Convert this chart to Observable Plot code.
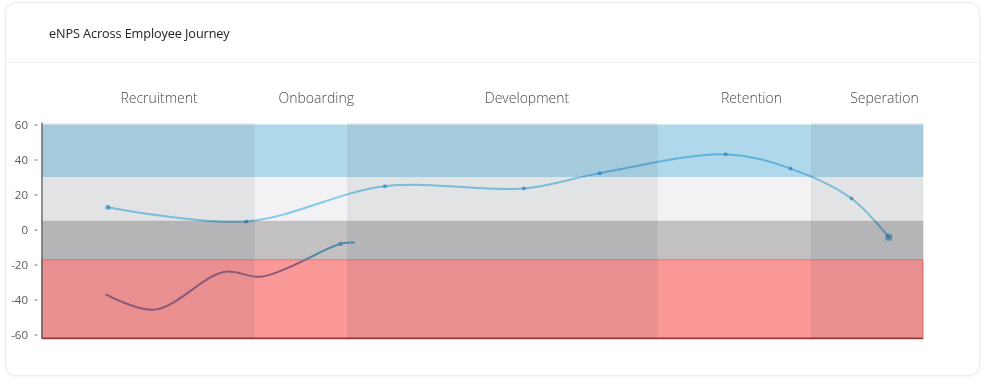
<!DOCTYPE html>
<html>
<head>
<meta charset="utf-8">
<script src="https://cdn.jsdelivr.net/npm/d3@7"></script>
<script src="https://cdn.jsdelivr.net/npm/@observablehq/plot@0.6"></script>
<style>
  html, body { margin: 0; padding: 0; background: #fff; width: 986px; height: 385px; overflow: hidden; }
  #card { position: absolute; left: 5px; top: 2px; width: 973px; height: 372px; border: 1px solid #ececec; border-radius: 11px; box-shadow: 0 1px 3px rgba(0,0,0,0.05); background: #fff; }
  #header { position: absolute; left: 0; top: 0; right: 0; height: 59px; border-bottom: 1px solid #f0f0f0; }
  #title { position: absolute; left: 43px; top: 21px; font-family: "Open Sans", sans-serif; font-size: 12.7px; color: #222; letter-spacing: -0.1px; }
  #chart { position: absolute; left: 0; top: 62px; }
</style>
</head>
<body>
<div id="card"><div id="header"><div id="title">eNPS Across Employee Journey</div></div></div>
<div id="chart"></div>
<script>
// Journey stages (x in % of the journey)
const stages = ["Recruitment", "Onboarding", "Development", "Retention", "Seperation"];
const stageStart = [0, 24.1, 34.7, 69.8, 87.3];
const stageEnd = [24.1, 34.7, 69.8, 87.3, 100];
const stageLabelX = [13.27, 31.1, 55.0, 80.46, 95.54];

// eNPS bands
const bandLow = [30, 5, -17, -62];
const bandHigh = [60, 30, 5, -17];
const bandColors = ["#afd8ea", "#f2f2f4", "#c2c0c1", "#fa9898"];
const detractorLimit = -17;

// Series 1: current eNPS along the journey
const journeyA = [7.46, 23.16, 38.88, 54.64, 63.26, 77.51, 84.88, 91.8, 96.03];
const enpsA = [13.0, 4.9, 25.0, 23.7, 32.5, 43.3, 35.1, 18.0, -4.1];

// Series 2: second eNPS series (early journey)
const journeyB = [7.3, 12.8, 20.6, 25.0, 33.85, 35.4];
const enpsB = [-36.9, -45.5, -24.0, -26.6, -7.9, -7.1];
const dotsB = [4];

const yTicks = [-60, -40, -20, 0, 20, 40, 60];

const stageData = stages.map((s, i) => ({ s, x1: stageStart[i], x2: stageEnd[i], lx: stageLabelX[i], i }));
const bands = bandLow.map((lo, i) => ({ lo, hi: bandHigh[i], color: bandColors[i] }));
const seriesA = journeyA.map((x, i) => ({ x, y: enpsA[i] }));
const seriesB = journeyB.map((x, i) => ({ x, y: enpsB[i] }));
const lineColor = "#8ad3f3";

function gradientDefs(index, scales) {
  const yPix = scales.y(detractorLimit);
  const defs = d3.create("svg:defs");
  const g = defs.append("linearGradient")
    .attr("id", "lineBGrad")
    .attr("gradientUnits", "userSpaceOnUse")
    .attr("x1", 0).attr("x2", 0)
    .attr("y1", yPix - 4).attr("y2", yPix + 4);
  g.append("stop").attr("offset", 0).attr("stop-color", "#5089a6");
  g.append("stop").attr("offset", 1).attr("stop-color", "#8a5a7a");
  return defs.node();
}

const chart = Plot.plot({
  width: 986,
  height: 300,
  marginLeft: 41.5,
  marginRight: 62.7,
  marginTop: 59,
  marginBottom: 24,
  x: { domain: [0, 100], axis: null },
  y: { domain: [-62, 62], axis: null },
  color: { type: "identity" },
  style: { fontFamily: "Open Sans, sans-serif", background: "transparent", overflow: "visible" },
  marks: [
    gradientDefs,
    Plot.rect(bands, { x1: () => 0, x2: () => 100, y1: "lo", y2: "hi", fill: "color" }),
    Plot.rect(bands.filter(b => b.lo === -62), { x1: () => 0, x2: () => 100, y1: "lo", y2: "hi", fill: "none", stroke: "#ee7070", strokeWidth: 1, inset: 0.5 }),
    Plot.rect(stageData.filter(d => d.i % 2 === 0), { x1: "x1", x2: "x2", y1: () => -62, y2: () => 61, fill: "#1a2430", fillOpacity: 0.075 }),
    Plot.ruleX(stageStart.slice(1), { y1: -62, y2: 61, stroke: "#000", strokeOpacity: 0.04, strokeWidth: 1 }),
    Plot.ruleY([-62], { stroke: "#8c3c3c", strokeWidth: 1.6 }),
    Plot.ruleX([0], { y1: -62, y2: 61, stroke: "#555", strokeWidth: 1.2 }),
    Plot.axisY({ ticks: yTicks, tickSize: 3, dx: -4, tickPadding: 7, tickFormat: d => String(d), fontSize: 11.5, color: "#5a5a5a", stroke: "#777" }),
    Plot.line(seriesA, { x: "x", y: "y", curve: "catmull-rom", stroke: lineColor, strokeWidth: 2, mixBlendMode: "multiply" }),
    Plot.dot(seriesA.slice(0, 1), { x: "x", y: "y", r: 2.6, fill: "#80c8ec", mixBlendMode: "multiply" }),
    Plot.dot(seriesA.slice(1, -1), { x: "x", y: "y", r: 2, fill: "#80c8ec", mixBlendMode: "multiply" }),
    Plot.dot(seriesA.slice(-1), { x: "x", y: "y", r: 3.6, fill: "#80c8ec", mixBlendMode: "multiply" }),
    Plot.line(seriesB, { x: "x", y: "y", curve: "catmull-rom", stroke: "url(#lineBGrad)", strokeWidth: 2 }),
    Plot.dot(dotsB.map(i => seriesB[i]), { x: "x", y: "y", r: 2.2, fill: "#5089a6" }),
    Plot.text(stageData, { x: "lx", text: "s", frameAnchor: "top", dy: -28, fontSize: 14, fontWeight: 300, fill: "#4a4a4a" })
  ]
});
document.getElementById("chart").appendChild(chart);
</script>
</body>
</html>
